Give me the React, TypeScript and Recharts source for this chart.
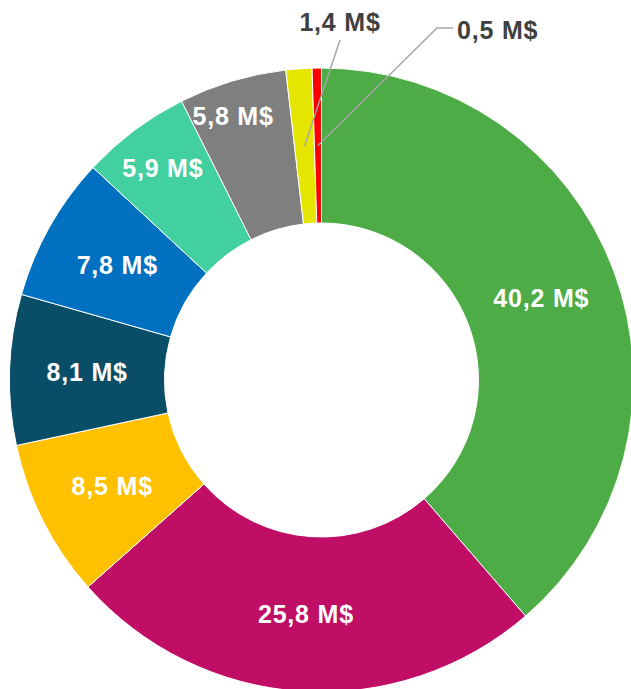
import { PieChart, Pie, Cell } from 'recharts';

const segments = ['A', 'B', 'C', 'D', 'E', 'F', 'G', 'H', 'I'];
const amounts = [40.2, 25.8, 8.5, 8.1, 7.8, 5.9, 5.8, 1.4, 0.5];
const colors = ['#4EAC47', '#C00D66', '#FFC000', '#094D66', '#0070C0', '#43D0A0', '#7F7F7F', '#E5E500', '#FF0000'];

const data = segments.map((name, i) => ({ name, value: amounts[i] }));

const RADIAN = Math.PI / 180;
const fmt = (v: number) => `${v.toFixed(1).replace('.', ',')} M$`;

// narrow slices get their label pushed outwards a bit (like Excel's best fit)
const nudge: Record<number, { dr: number; da: number }> = {
  5: { dr: 30, da: 0 },
  6: { dr: 44, da: 1.9 },
};

// leader-line elbows for the two thin slices, relative to the pie centre
const outside: Record<number, { dx: number; dy: number; tail: number }> = {
  7: { dx: 18.5, dy: -340, tail: 0 },
  8: { dx: 115.5, dy: -352, tail: 16 },
};

const renderLabel = (props: any) => {
  const { cx, cy, midAngle, innerRadius, outerRadius, index, value } = props;
  const n = nudge[index] || { dr: 0, da: 0 };
  const r = (innerRadius + outerRadius) / 2 + n.dr;
  const a = (midAngle + n.da) * RADIAN;
  const x = cx + r * Math.cos(-a);
  const y = cy + r * Math.sin(-a);
  const font = {
    fontFamily: '"Liberation Sans", Arial, sans-serif',
    fontWeight: 700,
    fontSize: 25,
    letterSpacing: 0.8,
  };
  const o = outside[index];
  if (!o) {
    return (
      <text x={x} y={y} fill="#fff" textAnchor="middle" dominantBaseline="central" style={font}>
        {fmt(value)}
      </text>
    );
  }
  const ex = cx + o.dx;
  const ey = cy + o.dy;
  if (o.tail === 0) {
    return (
      <g>
        <polyline points={`${x},${y} ${ex},${ey}`} stroke="#A6A6A6" strokeWidth={1.5} fill="none" />
        <text x={ex} y={ey - 18} fill="#404040" textAnchor="middle" dominantBaseline="central" style={font}>
          {fmt(value)}
        </text>
      </g>
    );
  }
  return (
    <g>
      <polyline points={`${x},${y} ${ex},${ey} ${ex + o.tail},${ey}`} stroke="#A6A6A6" strokeWidth={1.5} fill="none" />
      <text x={ex + o.tail + 4} y={ey + 2} fill="#404040" textAnchor="start" dominantBaseline="central" style={font}>
        {fmt(value)}
      </text>
    </g>
  );
};

export default function App() {
  return (
    <div style={{ position: 'absolute', left: 0, top: 0, width: 631, height: 689, background: '#fff' }}>
      <PieChart width={631} height={689} margin={{ top: 0, right: 0, bottom: 0, left: 0 }}>
        <Pie
          data={data}
          dataKey="value"
          nameKey="name"
          cx={321.5}
          cy={380}
          innerRadius={157}
          outerRadius={312}
          startAngle={90}
          endAngle={-270}
          stroke="#fff"
          strokeWidth={1}
          label={renderLabel}
          labelLine={false}
          isAnimationActive={false}
        >
          {data.map((d, i) => (
            <Cell key={d.name} fill={colors[i]} />
          ))}
        </Pie>
      </PieChart>
    </div>
  );
}
